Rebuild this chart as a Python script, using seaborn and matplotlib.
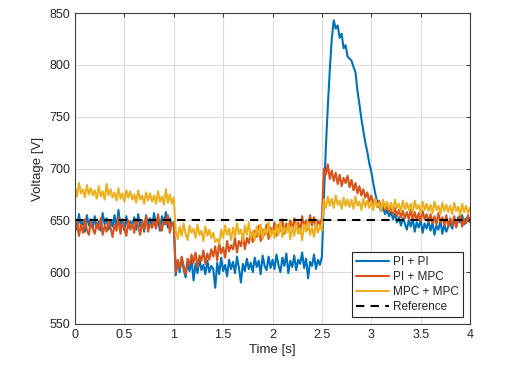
import numpy as np
import pandas as pd
import matplotlib
matplotlib.use("Agg")
import matplotlib.pyplot as plt
from matplotlib.ticker import FormatStrFormatter, MultipleLocator
import seaborn as sns

# time axis, sampled every 0.02 s
time_s = np.round(np.arange(0, 4.0001, 0.02), 2)

# PI + PI
pi_pi = [
    652, 641, 656, 644, 650, 639, 655, 645, 651, 642,
    654, 643, 649, 640, 657, 646, 652, 641, 650, 644,
    655, 642, 660, 645, 651, 640, 654, 643, 649, 646,
    653, 641, 656, 644, 650, 639, 655, 645, 652, 643,
    657, 644, 651, 640, 654, 646, 658, 643, 652, 645,
    648, 597, 611, 600, 614, 603, 595, 610, 601, 612,
    592, 608, 599, 613, 602, 607, 598, 611, 600, 606,
    603, 585, 609, 598, 614, 601, 607, 596, 612, 603,
    610, 599, 615, 604, 590, 608, 601, 613, 603, 609,
    600, 614, 605, 611, 598, 616, 606, 602, 615, 604,
    612, 603, 617, 607, 600, 614, 606, 618, 599, 611,
    605, 616, 602, 612, 608, 619, 604, 613, 594, 610,
    606, 617, 603, 612, 607, 615, 670, 720, 760, 795,
    825, 843, 835, 838, 826, 830, 816, 819, 808, 806,
    804, 798, 793, 775, 762, 748, 736, 725, 716, 705,
    697, 686, 676, 668, 663, 659, 662, 656, 660, 654,
    658, 651, 656, 648, 653, 645, 652, 647, 641, 650,
    644, 652, 639, 648, 643, 651, 638, 647, 642, 649,
    640, 648, 636, 645, 641, 650, 637, 646, 639, 644,
    647, 642, 651, 645, 653, 648, 655, 646, 652, 649,
    651,
]

# PI + MPC
pi_mpc = [
    640, 648, 635, 646, 638, 651, 641, 636, 649, 642,
    637, 647, 641, 652, 636, 645, 639, 650, 643, 634,
    646, 640, 653, 637, 648, 642, 635, 650, 641, 647,
    638, 651, 644, 636, 649, 641, 654, 639, 646, 643,
    650, 642, 656, 645, 640, 652, 646, 655, 638, 648,
    646, 600, 612, 603, 615, 606, 598, 613, 607, 617,
    609, 619, 605, 616, 611, 621, 608, 618, 612, 622,
    615, 625, 611, 628, 618, 624, 614, 630, 620, 626,
    622, 633, 619, 630, 625, 636, 622, 633, 628, 638,
    629, 640, 634, 645, 630, 641, 636, 646, 632, 643,
    638, 648, 635, 646, 640, 651, 637, 647, 641, 650,
    640, 652, 643, 648, 638, 654, 644, 650, 641, 655,
    645, 653, 642, 650, 646, 652, 700, 694, 704, 690,
    698, 688, 696, 685, 694, 683, 691, 686, 693, 682,
    689, 679, 686, 676, 683, 674, 680, 672, 677, 668,
    674, 666, 671, 663, 669, 661, 667, 660, 665, 658,
    664, 656, 662, 654, 660, 653, 659, 652, 658, 651,
    660, 651, 658, 650, 657, 649, 659, 651, 656, 648,
    656, 647, 654, 646, 657, 648, 653, 645, 655, 644,
    652, 645, 654, 643, 650, 656, 644, 651, 647, 655,
    648,
]

# MPC + MPC
mpc_mpc = [
    682, 673, 686, 676, 680, 672, 684, 675, 681, 674,
    679, 671, 683, 673, 678, 670, 685, 674, 680, 672,
    677, 669, 681, 671, 676, 668, 679, 672, 678, 670,
    675, 667, 679, 670, 674, 666, 677, 669, 676, 668,
    674, 666, 678, 668, 673, 665, 680, 667, 675, 666,
    672, 640, 632, 644, 635, 647, 637, 631, 645, 638,
    642, 633, 646, 636, 640, 630, 644, 635, 641, 633,
    638, 629, 632, 627, 641, 633, 645, 636, 642, 631,
    643, 634, 647, 637, 641, 630, 645, 636, 648, 633,
    640, 631, 644, 635, 646, 632, 642, 637, 648, 634,
    641, 633, 645, 636, 649, 634, 643, 638, 647, 632,
    644, 635, 648, 637, 642, 631, 646, 639, 650, 636,
    643, 634, 647, 638, 645, 640, 670, 662, 673, 664,
    671, 662, 674, 665, 669, 661, 672, 664, 670, 663,
    670, 661, 673, 664, 668, 660, 671, 663, 669, 662,
    668, 660, 671, 663, 667, 659, 670, 662, 668, 661,
    667, 659, 670, 662, 666, 658, 669, 661, 667, 660,
    666, 658, 669, 661, 665, 657, 668, 660, 666, 659,
    665, 657, 668, 660, 664, 656, 667, 659, 665, 658,
    664, 656, 667, 659, 663, 655, 666, 658, 664, 657,
    662,
]

reference_v = 650

series_names = ['PI + PI', 'PI + MPC', 'MPC + MPC']
series_colors = ['#0072BD', '#D95319', '#EDB120']

df = pd.DataFrame({'Time': time_s, 'PI + PI': pi_pi, 'PI + MPC': pi_mpc,
                   'MPC + MPC': mpc_mpc})

sns.set_style('white')
plt.rcParams['font.family'] = ['Liberation Sans', 'DejaVu Sans']

fig = plt.figure(figsize=(5.11, 3.75), dpi=100)
ax = fig.add_axes([0.1468, 0.136, 0.7730, 0.8293])

for name, col in zip(series_names, series_colors):
    sns.lineplot(data=df, x='Time', y=name, ax=ax, color=col, lw=1.5,
                 label=name, estimator=None)

ax.axhline(reference_v, color='black', ls=(0, (4, 3)), lw=1.5, label='Reference')

ax.set_xlim(0, 4)
ax.set_ylim(550, 850)
ax.xaxis.set_major_locator(MultipleLocator(0.5))
ax.yaxis.set_major_locator(MultipleLocator(50))
ax.xaxis.set_major_formatter(FormatStrFormatter('%g'))
ax.grid(True, color='#dcdcdc', lw=0.8)
ax.set_axisbelow(True)

for s in ax.spines.values():
    s.set_visible(True)
    s.set_color('#404040')
    s.set_linewidth(0.8)
ax.tick_params(direction='in', length=3, width=0.8, colors='#404040',
               labelcolor='#262626', labelsize=9, top=True, right=True)

ax.set_xlabel('Time [s]', fontsize=9.5, color='#262626', labelpad=2)
ax.set_ylabel('Voltage [V]', fontsize=9.5, color='#262626', labelpad=4)

leg = ax.legend(loc='lower right', fontsize=8.5, frameon=True, fancybox=False,
                handlelength=2.8, borderaxespad=0.6, labelspacing=0.25,
                handletextpad=0.3, borderpad=0.35)
leg.get_frame().set_edgecolor('#262626')
leg.get_frame().set_linewidth(0.8)
leg.get_frame().set_alpha(1)

fig.savefig('out.png', dpi=100)
